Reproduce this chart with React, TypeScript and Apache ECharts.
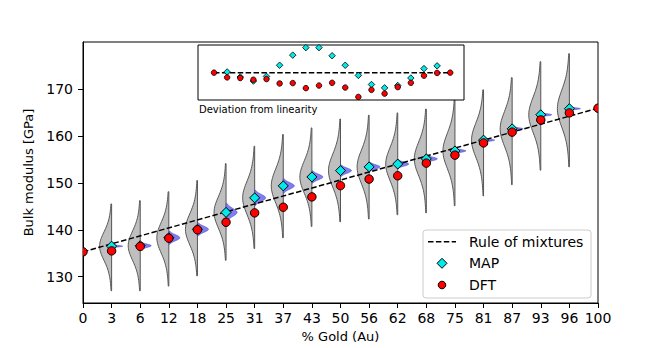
import React, { useEffect, useRef } from 'react';
import * as echarts from 'echarts';

// ---------- data ----------
const goldLabels = ['0', '3', '6', '12', '18', '25', '31', '37', '43', '50', '56', '62', '68', '75', '81', '87', '93', '96', '100'];
const yTicks = [130, 140, 150, 160, 170];

// MAP estimates at positions 1..17
const mapValues = [136.5, 136.6, 138.3, 140.1, 143.7, 146.8, 149.35, 151.25, 152.6, 153.4, 154.0, 155.1, 156.8, 159.1, 161.5, 164.5, 165.8];
// DFT at positions 0..18
const dftValues = [135.3, 135.5, 136.45, 138.2, 140.0, 141.6, 143.6, 144.8, 147.0, 149.4, 150.8, 151.5, 154.2, 155.9, 158.5, 160.8, 163.4, 164.9, 165.9];
// Rule of mixtures end points (position 0 and 18)
const ruleEnds = [135.3, 165.9];

// Posterior (gray) violin extents, positions 1..17
const violinLow = [127.0, 127.0, 128.0, 130.2, 133.5, 136.0, 138.3, 140.7, 141.7, 142.3, 143.2, 143.6, 145.1, 147.2, 149.6, 152.7, 153.4];
const violinHigh = [145.5, 146.2, 148.1, 150.5, 154.1, 157.8, 160.3, 161.7, 163.6, 164.4, 164.9, 165.7, 168.0, 169.8, 172.4, 175.8, 177.5];
// Blue violin half-extent (GPa), positions 1..17
const blueHalf = [0.35, 0.8, 1.4, 1.4, 1.9, 1.6, 1.5, 1.3, 1.2, 1.0, 0.9, 0.8, 0.6, 0.5, 0.5, 0.45, 0.4];

// Inset: deviation from linearity
const insetMap = [0.07, -0.43, -0.83, -0.37, 0.73, 1.73, 2.47, 2.47, 1.67, 0.73, -0.27, -1.17, -1.5, -1.27, -0.53, 0.4, 0.67];
const insetDft = [0, -0.47, -0.53, -0.7, -0.63, -1.07, -1.03, -1.53, -1.27, -1.0, -1.47, -2.4, -1.7, -2.07, -1.43, -1.0, -0.3, -0.03, 0];

const FONT = 'DejaVu Sans';

function buildOption(): any {
  const violinData = mapValues.map((m, k) => [k + 1, violinLow[k], violinHigh[k], m, blueHalf[k]]);
  const mapData = mapValues.map((m, k) => [k + 1, m]);
  const dftData = dftValues.map((d, k) => [k, d]);
  const insetMapData = insetMap.map((d, k) => [k + 1, d]);
  const insetDftData = insetDft.map((d, k) => [k, d]);

  const renderViolin = (params: any, api: any) => {
    const i = api.value(0);
    const lo = api.value(1);
    const hi = api.value(2);
    const pk = api.value(3);
    const bh = api.value(4);
    const W = 12;
    const WB = 11;
    const sg = (hi - lo) / 6.5;
    const N = 60;
    const gray: number[][] = [];
    for (let k = 0; k <= N; k++) {
      const v = lo + ((hi - lo) * k) / N;
      const z = (v - pk) / sg;
      const w = W * (0.75 * Math.exp(-0.5 * z * z) + 0.25 * Math.exp(-0.5 * (z / 1.8) * (z / 1.8)));
      const p = api.coord([i, v]);
      gray.push([p[0] - w, p[1]]);
    }
    const top = api.coord([i, hi]);
    const bot = api.coord([i, lo]);
    gray.push([top[0], top[1]]);
    gray.push([bot[0], bot[1]]);

    const blue: number[][] = [];
    const bs = bh / 2.2;
    for (let k = 0; k <= 40; k++) {
      const v = pk - bh + (2 * bh * k) / 40;
      const z = (v - pk) / bs;
      const w = WB * Math.exp(-0.5 * z * z);
      const p = api.coord([i, v]);
      blue.push([p[0] + w, p[1]]);
    }
    const bt = api.coord([i, pk + bh]);
    const bb = api.coord([i, pk - bh]);
    blue.push([bt[0], bt[1]]);
    blue.push([bb[0], bb[1]]);

    return {
      type: 'group',
      children: [
        {
          type: 'polygon',
          shape: { points: gray },
          style: { fill: '#bfbfbf', stroke: '#555555', lineWidth: 1 },
        },
        {
          type: 'polygon',
          shape: { points: blue },
          style: { fill: 'rgba(105,105,240,0.85)', stroke: '#4a4ac0', lineWidth: 0.6 },
        },
      ],
    };
  };

  const renderDft = (params: any, api: any) => {
    const p = api.coord([api.value(0), api.value(1)]);
    const cs = params.coordSys;
    return {
      type: 'group',
      clipPath: { type: 'rect', shape: { x: cs.x, y: cs.y, width: cs.width, height: cs.height } },
      children: [
        {
          type: 'circle',
          shape: { cx: p[0], cy: p[1], r: 4.2 },
          style: { fill: '#ff0000', stroke: '#000', lineWidth: 1 },
        },
      ],
    };
  };

  const axisFont = { fontFamily: FONT, color: '#000' };

  return {
    animation: false,
    grid: [
      { left: 83, top: 42, width: 515, height: 263, show: true, borderColor: '#000', borderWidth: 1, z: 0 },
      { left: 198, top: 45, width: 266, height: 55, show: true, borderColor: '#000', borderWidth: 1, backgroundColor: '#fff', z: 10 },
    ],
    xAxis: [
      {
        type: 'value', gridIndex: 0, min: 0, max: 18, interval: 1,
        axisLine: { show: true, lineStyle: { color: '#000', width: 1 } },
        axisTick: { show: true, length: 5, lineStyle: { color: '#000' } },
        axisLabel: { ...axisFont, fontSize: 14, margin: 8, formatter: (v: number) => goldLabels[v] ?? '' },
        splitLine: { show: false },
        name: '% Gold (Au)', nameLocation: 'middle', nameGap: 27,
        nameTextStyle: { ...axisFont, fontSize: 13 },
      },
      { type: 'value', gridIndex: 1, min: -1.22, max: 19.05, show: false, splitLine: { show: false } },
    ],
    yAxis: [
      {
        type: 'value', gridIndex: 0, min: 124.4, max: 180,
        axisLine: { show: true, lineStyle: { color: '#000', width: 1 } },
        axisTick: { show: true, length: 5, customValues: yTicks, lineStyle: { color: '#000' } },
        axisLabel: { ...axisFont, fontSize: 14, margin: 10, customValues: yTicks },
        splitLine: { show: false },
        name: 'Bulk modulus [GPa]', nameLocation: 'middle', nameGap: 41,
        nameTextStyle: { ...axisFont, fontSize: 13 },
      },
      { type: 'value', gridIndex: 1, min: -2.7, max: 2.73, show: false, splitLine: { show: false } },
    ],
    series: [
      {
        type: 'custom', name: 'violins', xAxisIndex: 0, yAxisIndex: 0, z: 2,
        renderItem: renderViolin, data: violinData, silent: true,
      },
      {
        type: 'line', name: 'Rule of mixtures', xAxisIndex: 0, yAxisIndex: 0, z: 3,
        data: [[0, ruleEnds[0]], [18, ruleEnds[1]]], symbol: 'none',
        lineStyle: { color: '#000', width: 1.5, type: [5.5, 2.4] },
      },
      {
        type: 'scatter', name: 'MAP', xAxisIndex: 0, yAxisIndex: 0, z: 4,
        data: mapData, symbol: 'diamond', symbolSize: 10,
        itemStyle: { color: '#00eaea', borderColor: '#000', borderWidth: 1, opacity: 1 },
      },
      {
        type: 'custom', name: 'DFT', xAxisIndex: 0, yAxisIndex: 0, z: 5,
        renderItem: renderDft, data: dftData, silent: true,
      },
      {
        type: 'line', name: 'insetLine', xAxisIndex: 1, yAxisIndex: 1, z: 11,
        data: [[0, 0], [18, 0]], symbol: 'none',
        lineStyle: { color: '#000', width: 1.5, type: [5.5, 2.4] },
      },
      {
        type: 'scatter', name: 'insetMAP', xAxisIndex: 1, yAxisIndex: 1, z: 12,
        data: insetMapData, symbol: 'diamond', symbolSize: 6.5,
        itemStyle: { color: '#00eaea', borderColor: '#000', borderWidth: 0.8, opacity: 1 },
      },
      {
        type: 'scatter', name: 'insetDFT', xAxisIndex: 1, yAxisIndex: 1, z: 13,
        data: insetDftData, symbol: 'circle', symbolSize: 5.5,
        itemStyle: { color: '#ff0000', borderColor: '#000', borderWidth: 0.8, opacity: 1 },
      },
    ],
    graphic: [
      {
        type: 'text', x: 199, y: 109, z: 20,
        style: { text: 'Deviation from linearity', fontSize: 10, fontFamily: FONT, fill: '#000', verticalAlign: 'middle', align: 'left' },
      },
      {
        type: 'group', z: 30,
        children: [
          {
            type: 'rect', shape: { x: 423, y: 230, width: 168, height: 68, r: 3 },
            style: { fill: 'rgba(255,255,255,0.8)', stroke: '#cccccc', lineWidth: 1 },
          },
          {
            type: 'line', shape: { x1: 428, y1: 241.7, x2: 456, y2: 241.7 },
            style: { stroke: '#000', lineWidth: 1.5, lineDash: [5.5, 2.4] },
          },
          {
            type: 'text', x: 469, y: 241.7,
            style: { text: 'Rule of mixtures', fontSize: 14, fontFamily: FONT, fill: '#000', verticalAlign: 'middle', align: 'left' },
          },
          {
            type: 'polygon', shape: { points: [[442, 258.3], [447, 263.3], [442, 268.3], [437, 263.3]] },
            style: { fill: '#00eaea', stroke: '#000', lineWidth: 1 },
          },
          {
            type: 'text', x: 469, y: 263.3,
            style: { text: 'MAP', fontSize: 14, fontFamily: FONT, fill: '#000', verticalAlign: 'middle', align: 'left' },
          },
          {
            type: 'circle', shape: { cx: 442, cy: 285, r: 3.8 },
            style: { fill: '#ff0000', stroke: '#000', lineWidth: 1 },
          },
          {
            type: 'text', x: 469, y: 285,
            style: { text: 'DFT', fontSize: 14, fontFamily: FONT, fill: '#000', verticalAlign: 'middle', align: 'left' },
          },
        ],
      },
    ],
  };
}

export default function App() {
  const ref = useRef<HTMLDivElement>(null);
  useEffect(() => {
    document.body.style.margin = '0';
    const chart = echarts.init(ref.current as HTMLDivElement, null, { renderer: 'svg' });
    chart.setOption(buildOption());
    return () => chart.dispose();
  }, []);
  return <div ref={ref} style={{ width: 664, height: 348, background: '#fff' }} />;
}
